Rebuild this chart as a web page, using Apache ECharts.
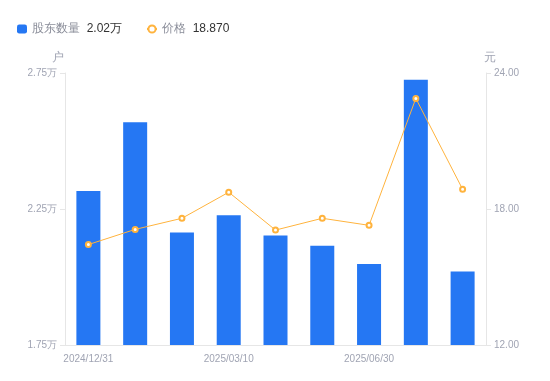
<!DOCTYPE html>
<html>
<head>
<meta charset="utf-8">
<script src="https://cdn.jsdelivr.net/npm/echarts@6/dist/echarts.min.js"></script>
<style>
  html, body { margin: 0; padding: 0; background: #fff; }
  #chart { width: 550px; height: 381px; }
</style>
</head>
<body>
<div id="chart"></div>
<script>
// 日期
var dates = ['2024/12/31', '2025/01/20', '2025/02/20', '2025/03/10', '2025/03/31', '2025/04/30', '2025/06/30', '2025/07/31', '2025/08/31'];
// 股东数量（户）
var holders = [23160, 25690, 21640, 22270, 21530, 21150, 20480, 27250, 20200];
// 价格（元）
var prices = [16.43, 17.10, 17.59, 18.74, 17.07, 17.59, 17.28, 22.88, 18.87];
// 左轴刻度
var holderTicks = [17500, 22500, 27500];

var labelColor = '#a0a4b3';
var lineColor = '#e6e6e6';

var chart = echarts.init(document.getElementById('chart'));
var option = {
  animation: false,
  legend: {
    left: 12,
    top: 18,
    itemWidth: 10,
    itemHeight: 9,
    itemGap: 24,
    textStyle: {
      fontSize: 12,
      rich: {
        n: { color: '#8a8d99', fontSize: 12 },
        v: { color: '#333', fontSize: 12 }
      }
    },
    formatter: function (name) {
      if (name == '股东数量') {
        return '{n|' + name + '}  {v|' + (holders[holders.length - 1] / 10000).toFixed(2) + '万}';
      }
      return '{n|' + name + '}  {v|' + prices[prices.length - 1].toFixed(3) + '}';
    }
  },
  grid: { left: 65, right: 64, top: 73, bottom: 36 },
  xAxis: {
    type: 'category',
    data: dates,
    axisLine: { lineStyle: { color: lineColor } },
    axisTick: { show: false },
    axisLabel: { color: labelColor, fontSize: 10, interval: 2, margin: 9 }
  },
  yAxis: [{
    type: 'value',
    name: '户',
    nameGap: 9,
    nameTextStyle: { color: labelColor, fontSize: 12, padding: [0, 14, 0, 0] },
    min: 17500,
    max: 27500,
    interval: 2500,
    splitLine: { show: false },
    axisLine: { show: true, lineStyle: { color: lineColor } },
    axisTick: { show: true, length: 5, customValues: holderTicks, lineStyle: { color: lineColor } },
    axisLabel: {
      color: labelColor, fontSize: 10, margin: 8,
      customValues: holderTicks,
      formatter: function (v) { return (v / 10000).toFixed(2) + '万'; }
    }
  }, {
    type: 'value',
    name: '元',
    nameGap: 9,
    nameTextStyle: { color: labelColor, fontSize: 12, padding: [0, 0, 0, 8] },
    min: 12,
    max: 24,
    interval: 6,
    splitLine: { show: false },
    axisLine: { show: true, lineStyle: { color: lineColor } },
    axisTick: { show: true, length: 5, lineStyle: { color: lineColor } },
    axisLabel: {
      color: labelColor, fontSize: 10, margin: 8,
      formatter: function (v) { return v.toFixed(2); }
    }
  }],
  series: [{
    name: '股东数量',
    type: 'bar',
    yAxisIndex: 0,
    barWidth: 24,
    itemStyle: { color: '#2577f3' },
    data: holders
  }, {
    name: '价格',
    type: 'line',
    yAxisIndex: 1,
    symbol: 'emptyCircle',
    symbolSize: 5,
    lineStyle: { color: '#ffb33d', width: 1 },
    itemStyle: { color: '#ffb33d', borderWidth: 2 },
    data: prices
  }]
};
chart.setOption(option);
</script>
</body>
</html>
